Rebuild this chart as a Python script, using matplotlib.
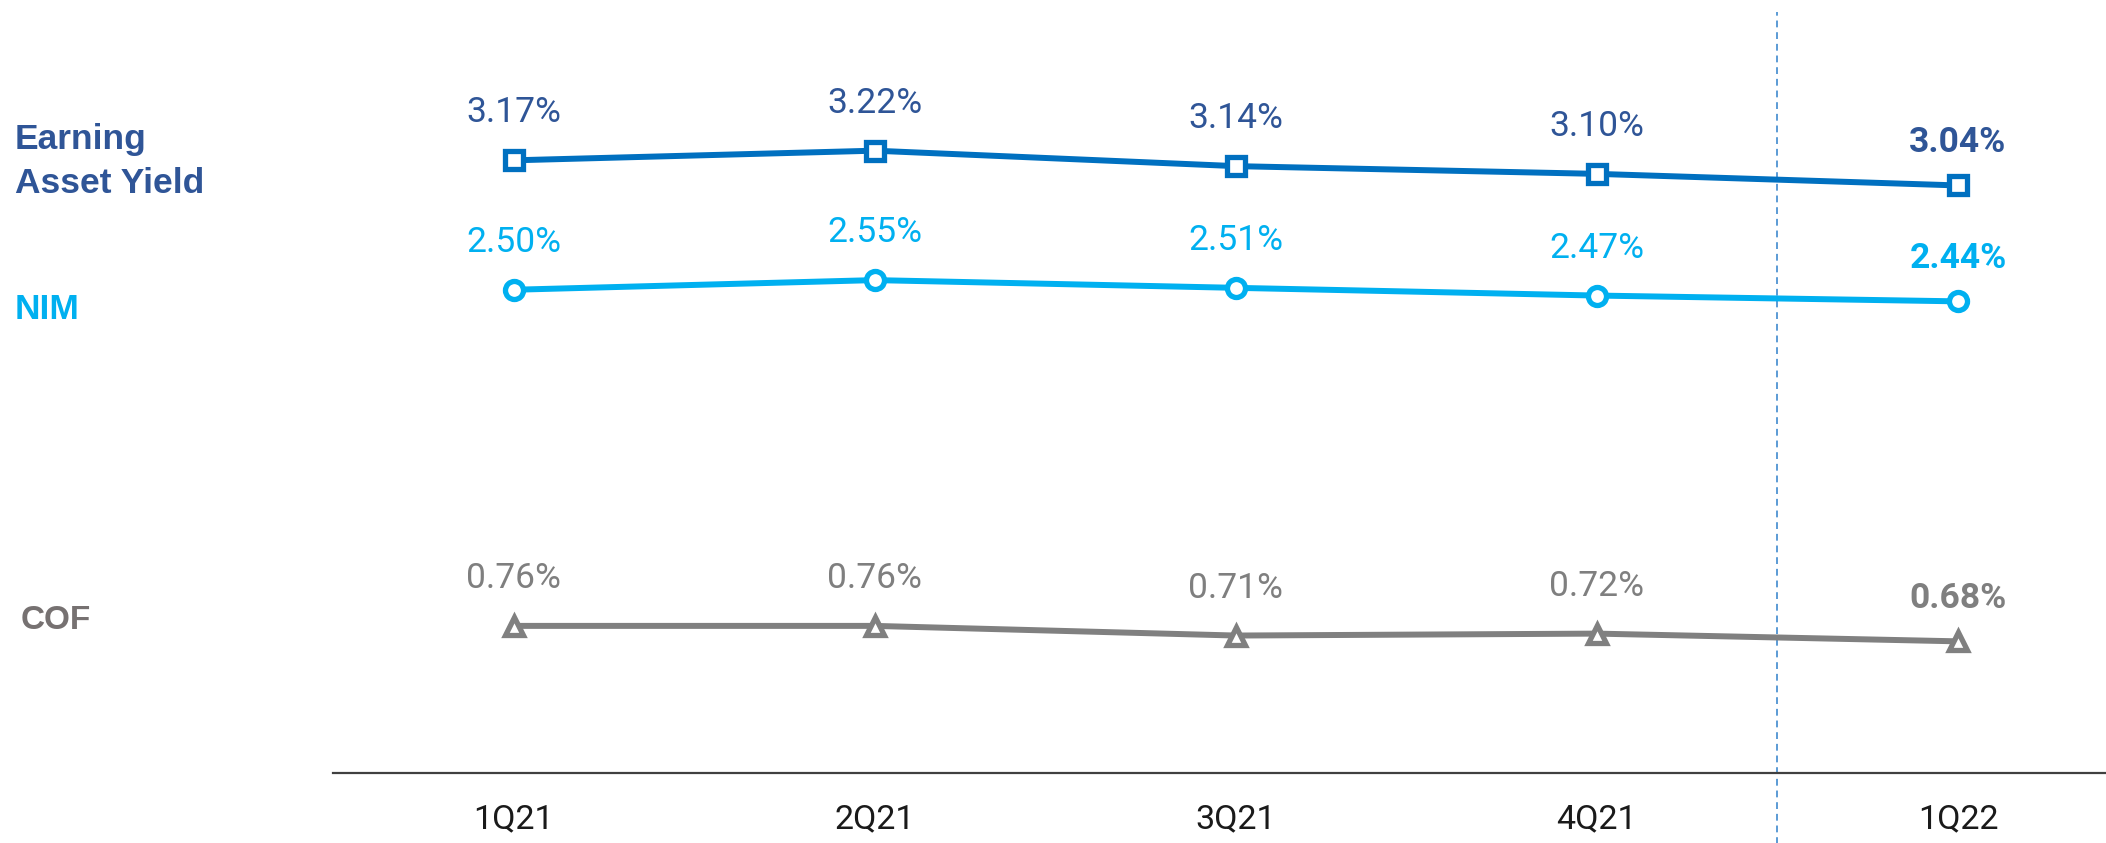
import matplotlib
matplotlib.use("Agg")
import matplotlib.pyplot as plt

quarters = ["1Q21", "2Q21", "3Q21", "4Q21", "1Q22"]
eay = [3.17, 3.22, 3.14, 3.10, 3.04]
nim = [2.50, 2.55, 2.51, 2.47, 2.44]
cof = [0.76, 0.76, 0.71, 0.72, 0.68]

W, H = 2106, 843
fig = plt.figure(figsize=(W / 100, H / 100), dpi=100)
ax = fig.add_axes([333 / W, (H - 772.7) / H, 1 - 333 / W, 772.7 / H])
ax.set_xlim(-0.5, 4.41)
ax.set_ylim(0, 4.0)
for s in ["top", "right", "left"]:
    ax.spines[s].set_visible(False)
ax.spines["bottom"].set_color("#404040")
ax.spines["bottom"].set_linewidth(1.6)
ax.set_yticks([])
x = list(range(len(quarters)))
narrow = ["Roboto", "DejaVu Sans"]
ax.set_xticks(x)
ax.set_xticklabels(quarters, fontsize=24.5, family=narrow, color="#1a1a1a")
ax.tick_params(axis="x", length=0, pad=22)

# divider between years
ax.axvline(3.5, ymin=-0.092, ymax=0.984, clip_on=False, color="#5B9BD5",
           lw=1.4, ls=(0, (3.5, 2.5)), zorder=1)

series = [
    (eay, "#0070C0", "#2F5597", "s"),
    (nim, "#00B0F0", "#00B0F0", "o"),
    (cof, "#808080", "#7F7F7F", "^"),
]
for vals, lc, tc, mk in series:
    ax.plot(x, vals, color=lc, lw=4.3, marker=mk, ms=13, mew=3.8,
            mfc="white", mec=lc, zorder=3, solid_joinstyle="round")
    for i, v in enumerate(vals):
        last = i == len(vals) - 1
        ax.annotate(f"{v:.2f}%", (i, v), xytext=(0, 33 if last else 38),
                    textcoords="offset pixels", ha="center", va="baseline",
                    fontsize=25.5, color=tc, family=narrow,
                    fontweight="bold" if last else "normal", zorder=4)

left_font = ["Liberation Sans", "DejaVu Sans"]
fig.text(15 / W, 1 - 149 / H, "Earning", fontsize=25.5, fontweight="bold",
         color="#2F5597", family=left_font, va="baseline", ha="left")
fig.text(15 / W, 1 - 193 / H, "Asset Yield", fontsize=25.5, fontweight="bold",
         color="#2F5597", family=left_font, va="baseline", ha="left")
fig.text(15 / W, 1 - 319 / H, "NIM", fontsize=25.5, fontweight="bold",
         color="#00B0F0", family=left_font, va="baseline", ha="left")
fig.text(21 / W, 1 - 629 / H, "COF", fontsize=24, fontweight="bold",
         color="#767171", family=left_font, va="baseline", ha="left")

fig.savefig("out.png", dpi=100, facecolor="white")
